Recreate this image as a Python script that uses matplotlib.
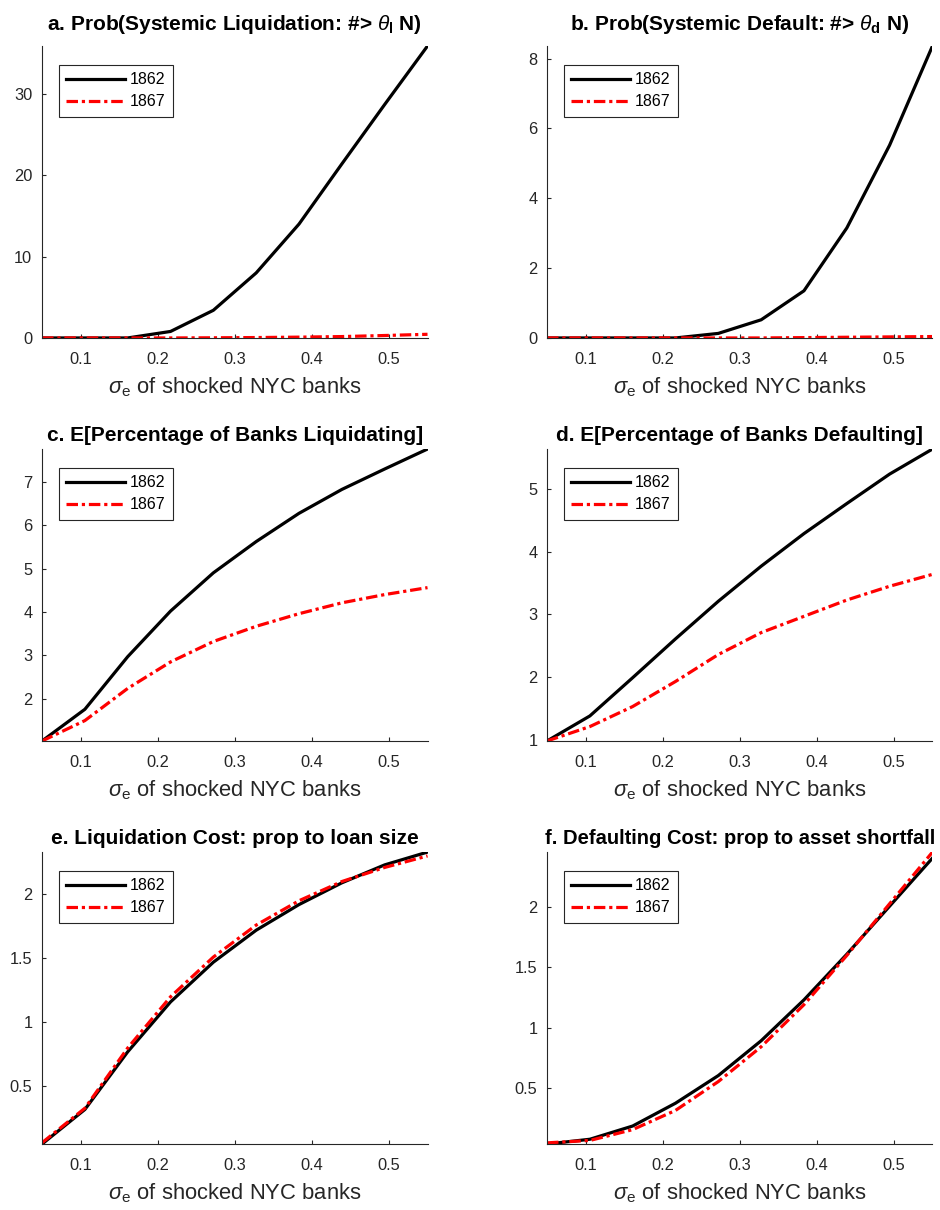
import matplotlib
matplotlib.use("Agg")
import matplotlib.pyplot as plt
from matplotlib.ticker import MultipleLocator, FormatStrFormatter

plt.rcParams["font.family"] = ["Liberation Sans", "DejaVu Sans"]
plt.rcParams["mathtext.fontset"] = "custom"
plt.rcParams["mathtext.rm"] = "Liberation Sans"
plt.rcParams["mathtext.it"] = "Liberation Sans:italic"
plt.rcParams["mathtext.bf"] = "Liberation Sans:bold"

# sigma_e grid (x axis)
sigma_e = [0.05, 0.1056, 0.1611, 0.2167, 0.2722, 0.3278, 0.3833, 0.4389, 0.4944, 0.55]

# a. Prob(systemic liquidation)
liq_prob_1862 = [0.0, 0.0, 0.0, 0.8, 3.4, 8.0, 14.0, 21.4, 28.7, 35.9]
liq_prob_1867 = [0.0, 0.0, 0.0, 0.0, 0.02, 0.05, 0.1, 0.17, 0.3, 0.45]
# b. Prob(systemic default)
def_prob_1862 = [0.0, 0.0, 0.0, 0.0, 0.13, 0.52, 1.35, 3.15, 5.52, 8.36]
def_prob_1867 = [0.0, 0.0, 0.0, 0.0, 0.0, 0.0, 0.01, 0.02, 0.03, 0.04]
# c. E[% banks liquidating]
liq_pct_1862 = [1.03, 1.76, 2.97, 4.02, 4.9, 5.62, 6.27, 6.82, 7.29, 7.75]
liq_pct_1867 = [1.03, 1.5, 2.24, 2.85, 3.32, 3.67, 3.96, 4.21, 4.4, 4.56]
# d. E[% banks defaulting]
def_pct_1862 = [0.98, 1.38, 1.99, 2.61, 3.21, 3.77, 4.29, 4.77, 5.24, 5.64]
def_pct_1867 = [0.98, 1.21, 1.53, 1.93, 2.36, 2.71, 2.97, 3.23, 3.45, 3.64]
# e. liquidation cost
liq_cost_1862 = [0.05, 0.32, 0.77, 1.16, 1.47, 1.72, 1.92, 2.09, 2.23, 2.33]
liq_cost_1867 = [0.06, 0.33, 0.8, 1.2, 1.51, 1.76, 1.95, 2.1, 2.21, 2.30]
# f. defaulting cost
def_cost_1862 = [0.03, 0.07, 0.18, 0.37, 0.6, 0.89, 1.23, 1.61, 2.01, 2.41]
def_cost_1867 = [0.04, 0.06, 0.15, 0.31, 0.55, 0.84, 1.19, 1.6, 2.03, 2.46]

titles = [
    r"a. Prob(Systemic Liquidation: #> $\theta_{\mathbf{l}}$ N)",
    r"b. Prob(Systemic Default: #> $\theta_{\mathbf{d}}$ N)",
    "c. E[Percentage of Banks Liquidating]",
    "d. E[Percentage of Banks Defaulting]",
    "e. Liquidation Cost: prop to loan size",
    "f. Defaulting Cost: prop to asset shortfall",
]
series = [
    (liq_prob_1862, liq_prob_1867),
    (def_prob_1862, def_prob_1867),
    (liq_pct_1862, liq_pct_1867),
    (def_pct_1862, def_pct_1867),
    (liq_cost_1862, liq_cost_1867),
    (def_cost_1862, def_cost_1867),
]
y_steps = [10, 2, 1, 1, 0.5, 0.5]
title_pads = [11.5, 11.5, 6, 6, 6, 6]
title_sizes = [15, 15, 15, 15, 15, 14.5]

axis_col = (0.15, 0.15, 0.15)
lefts = [0.0447, 0.5819]
bottoms = [0.7207, 0.3876, 0.0545]
w, h = 0.4101, 0.2413

fig = plt.figure(figsize=(9.4, 12.1), dpi=100)

for i in range(6):
    row, col = divmod(i, 2)
    ax = fig.add_axes([lefts[col], bottoms[row], w, h])
    y62, y67 = series[i]
    ax.plot(sigma_e, y62, color="black", lw=2.3, label="1862")
    ax.plot(sigma_e, y67, color="red", lw=2.3, linestyle=(0, (3.6, 1.2, 1.0, 1.2)),
            label="1867")
    ax.set_xlim(0.05, 0.55)
    ax.set_ylim(min(min(y62), min(y67)), max(max(y62), max(y67)))
    ax.xaxis.set_major_locator(MultipleLocator(0.1))
    ax.yaxis.set_major_locator(MultipleLocator(y_steps[i]))
    ax.xaxis.set_major_formatter(FormatStrFormatter("%g"))
    ax.yaxis.set_major_formatter(FormatStrFormatter("%g"))
    for s in ["top", "right"]:
        ax.spines[s].set_visible(False)
    for s in ["left", "bottom"]:
        ax.spines[s].set_color(axis_col)
        ax.spines[s].set_linewidth(0.8)
    ax.tick_params(direction="in", length=3, width=0.8, colors=axis_col,
                   labelsize=11.8)
    ax.tick_params(axis="x", pad=10)
    ax.tick_params(axis="y", pad=7)
    ax.set_title(titles[i], fontsize=title_sizes[i], fontweight="bold",
                 pad=title_pads[i])
    ax.set_xlabel(r"$\sigma_{\rm e}$ of shocked NYC banks", fontsize=15.8,
                  color=axis_col, labelpad=6)
    leg = ax.legend(loc="upper left", bbox_to_anchor=(0.044, 0.935),
                    borderaxespad=0, fontsize=11.5, handlelength=3.7,
                    handletextpad=0.3, labelspacing=0.45, borderpad=0.45,
                    fancybox=False, framealpha=1)
    leg.get_frame().set_edgecolor(axis_col)
    leg.get_frame().set_linewidth(0.8)

fig.savefig("out.png", dpi=100)
